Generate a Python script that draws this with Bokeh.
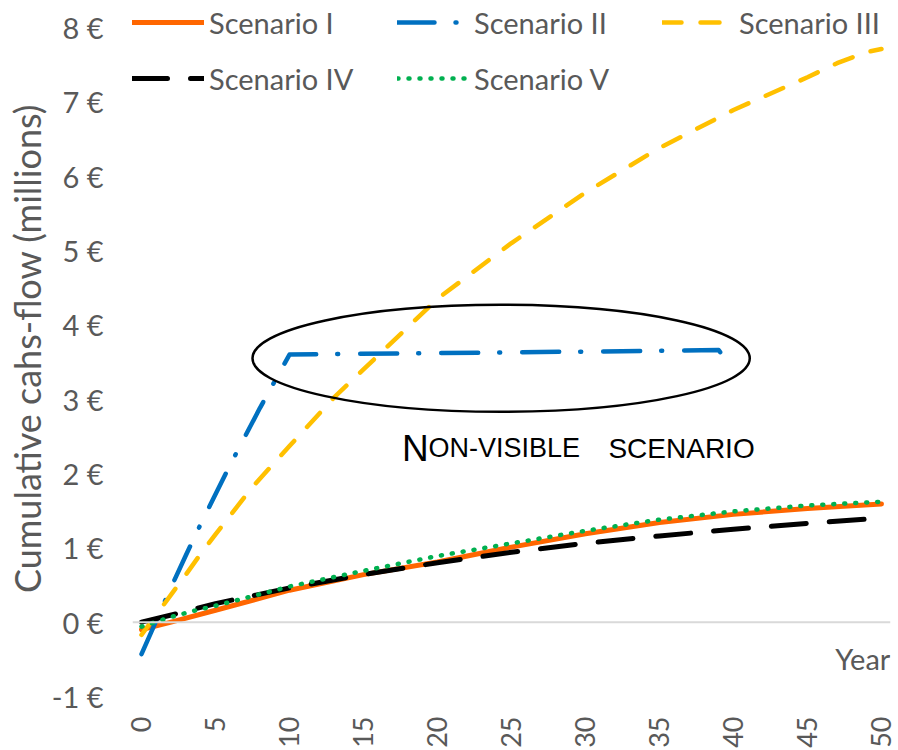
import math

from bokeh.embed import file_html
from bokeh.models import (FixedTicker, Label, Legend, LegendItem,
                          PrintfTickFormatter, Range1d, Span)
from bokeh.plotting import figure
from bokeh.resources import INLINE

# Cumulative cash-flow per scenario (millions of euros) against year
years_i = [0, 2, 5, 10, 15, 20, 25, 30, 35, 40, 45, 50]
scenario_i = [-0.10, 0.00, 0.16, 0.43, 0.64, 0.81, 1.01, 1.19, 1.34, 1.45, 1.53, 1.59]

years_ii = [0, 1, 2, 3, 4, 5, 6, 7, 8, 9, 10, 20, 30, 39, 39.3]
scenario_ii = [-0.43, 0.02, 0.47, 0.90, 1.32, 1.72, 2.12, 2.50, 2.88, 3.24, 3.60,
               3.62, 3.64, 3.66, 3.58]

years_iii = [0, 1, 2, 3, 4, 5, 7.5, 10, 13, 15, 20, 25, 30, 35, 40, 45, 47, 49, 50]
scenario_iii = [-0.17, 0.10, 0.37, 0.64, 0.92, 1.18, 1.82, 2.37, 3.02, 3.40, 4.35,
                5.10, 5.78, 6.38, 6.89, 7.33, 7.52, 7.67, 7.71]

years_iv = [0, 2.5, 5, 10, 15, 20, 25, 30, 35, 40, 45, 50]
scenario_iv = [0.00, 0.12, 0.25, 0.46, 0.64, 0.80, 0.94, 1.06, 1.16, 1.25, 1.33, 1.40]

years_v = [0, 2, 3.5, 5, 10, 15, 20, 25, 30, 35, 40, 45, 50]
scenario_v = [-0.06, 0.07, 0.15, 0.22, 0.48, 0.69, 0.89, 1.06, 1.23, 1.38, 1.49, 1.57, 1.62]

series_names = ["Scenario I", "Scenario II", "Scenario III", "Scenario IV", "Scenario V"]
x_ticks = list(range(0, 51, 5))
y_ticks = list(range(-1, 9))

FONT = "Lato"
GREY = "#595959"

# the frame reaches the top edge so the legend rows have room above "8 €"
p = figure(width=898, height=750, output_backend="svg", toolbar_location=None,
           x_range=Range1d(-0.608, 50.61), y_range=Range1d(-1, 8.363),
           min_border_left=132, min_border_right=8, min_border_top=0,
           min_border_bottom=54)
p.outline_line_color = None
p.grid.visible = False
p.background_fill_color = "white"
p.border_fill_color = "white"

# y axis: euro labels, no axis line or ticks
yax = p.yaxis[0]
yax.ticker = FixedTicker(ticks=y_ticks)
yax.formatter = PrintfTickFormatter(format="%d €")
yax.axis_line_color = None
yax.major_tick_line_color = None
yax.minor_tick_line_color = None
yax.major_tick_out = 0
yax.major_tick_in = 0
yax.minor_tick_out = 0
yax.major_label_text_font = FONT
yax.major_label_text_font_size = "29px"
yax.major_label_text_color = GREY
yax.major_label_standoff = 29
yax.axis_label = "Cumulative cahs-flow (millions)"
yax.axis_label_text_font = FONT
yax.axis_label_text_font_size = "36px"
yax.axis_label_text_font_style = "normal"
yax.axis_label_text_color = GREY
yax.axis_label_standoff = 0

# x axis: vertical year labels at the bottom
xax = p.xaxis[0]
xax.ticker = FixedTicker(ticks=x_ticks)
xax.axis_line_color = None
xax.major_tick_line_color = None
xax.minor_tick_line_color = None
xax.major_tick_out = 0
xax.major_tick_in = 0
xax.minor_tick_out = 0
xax.major_label_orientation = math.pi / 2
xax.major_label_text_font = FONT
xax.major_label_text_font_size = "27px"
xax.major_label_text_color = GREY
xax.major_label_standoff = 20

# zero line acting as the horizontal axis
p.add_layout(Span(location=0, dimension="width", line_color="#d9d9d9", line_width=2))

r1 = p.line(years_i, scenario_i, line_color="#FF6600", line_width=5,
            line_join="round", line_cap="round")
r2 = p.line(years_ii, scenario_ii, line_color="#0070C0", line_width=4.5,
            line_dash="37 21 1 22", line_cap="round", line_join="round")
r3 = p.line(years_iii, scenario_iii, line_color="#FFC000", line_width=4.5,
            line_dash="19 19", line_cap="round", line_join="round")
r4 = p.line(years_iv, scenario_iv, line_color="black", line_width=5,
            line_dash="35 23", line_cap="round", line_join="round")
r5 = p.line(years_v, scenario_v, line_color="#00B050", line_width=4.5,
            line_dash="1 10", line_cap="round", line_join="round")

# highlight around the flat scenario II segment
p.ellipse(x=24.3, y=3.55, width=33.6, height=1.44, fill_color=None,
          line_color="black", line_width=2.5)

# small-caps style caption
p.add_layout(Label(x=17.6, y=2.34, text="N", text_font="Liberation Sans",
                   text_font_size="37px", text_color="black",
                   text_baseline="alphabetic"))
p.add_layout(Label(x=19.39, y=2.34, text="ON-VISIBLE", text_font="Liberation Sans",
                   text_font_size="27px", text_color="black",
                   text_baseline="alphabetic"))
p.add_layout(Label(x=31.55, y=2.34, text="SCENARIO", text_font="Liberation Sans",
                   text_font_size="28px", text_color="black",
                   text_baseline="alphabetic"))

p.add_layout(Label(x=50.6, y=-0.49, text="Year", text_font=FONT,
                   text_font_size="29px", text_color=GREY, text_align="right",
                   text_baseline="alphabetic"))

legend = Legend(
    items=[LegendItem(label=n, renderers=[r]) for n, r in
           zip(series_names, [r1, r2, r3, r4, r5])],
    location=(0, 590), orientation="horizontal", ncols=3,
    glyph_width=72, glyph_height=56, label_height=56, label_width=188,
    label_standoff=5, spacing=0, padding=0, margin=0,
    label_text_font=FONT, label_text_font_size="29px", label_text_color=GREY,
    label_text_baseline="middle",
    background_fill_alpha=0, border_line_color=None,
)
p.add_layout(legend)

open("out.html", "w").write(file_html(p, INLINE))
